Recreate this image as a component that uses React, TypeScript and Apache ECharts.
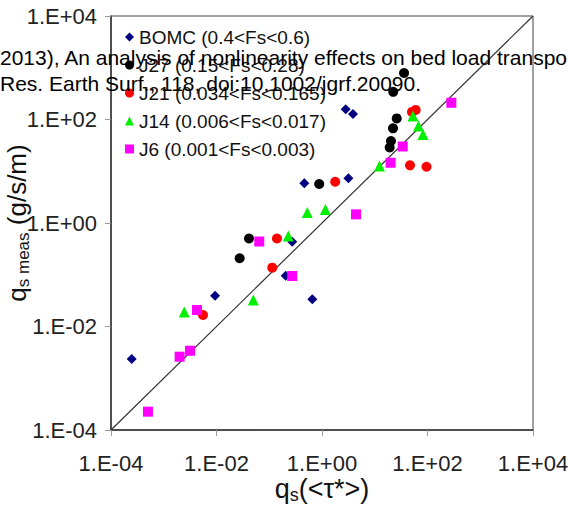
import React, { useEffect, useRef } from "react";
import * as echarts from "echarts";

const FONT = "'Liberation Sans', Arial, Helvetica, sans-serif";

// Axis extent (decades) and tick step
const axisMinExp = -4;
const axisMaxExp = 4;
const tickStepExp = 2;

// Series names
const seriesNames = [
  "BOMC (0.4<Fs<0.6)",
  "J27 (0.15<Fs<0.28)",
  "J21 (0.034<Fs<0.165)",
  "J14 (0.006<Fs<0.017)",
  "J6 (0.001<Fs<0.003)",
];

// [qs(<tau*>), qs meas] pairs
const bomc = [
  [2.47e-4, 2.35e-3], [9.4e-3, 0.0394], [0.205, 0.096], [0.655, 0.0336], [0.273, 0.435],
  [0.462, 5.85], [3.16, 7.31], [2.81, 158], [3.87, 128],
];
const j27 = [
  [0.0275, 0.208], [0.0413, 0.501], [0.885, 5.67], [19.2, 28.8], [20.3, 38.4],
  [22.2, 67.6], [26.1, 105], [22.4, 343], [35.9, 792],
];
const j21 = [
  [5.55e-3, 0.0167], [0.114, 0.137], [0.14, 0.501], [1.78, 6.28], [46.6, 13.0],
  [95.7, 12.2], [50.8, 140], [59.7, 153],
];
const j14 = [
  [2.45e-3, 0.0191], [0.0499, 0.0325], [0.23, 0.561], [0.526, 1.6], [1.16, 1.82],
  [12.3, 12.6], [53.1, 117], [67.5, 74.9], [82.2, 51.3],
];
const j6 = [
  [5.02e-4, 2.26e-4], [2.0e-3, 2.61e-3], [3.15e-3, 3.4e-3], [4.27e-3, 0.0208], [0.0647, 0.439],
  [0.273, 0.0946], [4.42, 1.47], [20.0, 14.6], [33.9, 30.1], [283, 211],
];

// 1:1 line end points
const oneToOne = [1e-4, 1e4];

const overlayLines = [
  "2013), An analysis of nonlinearity effects on bed load transpo",
  "Res. Earth Surf., 118, doi:10.1002/jgrf.20090.",
];

const seriesData = [bomc, j27, j21, j14, j6];
const seriesColors = ["#000080", "#000000", "#ff0000", "#00f000", "#ff00ff"];
const seriesSymbols = ["diamond", "circle", "circle", "triangle", "rect"];
const seriesSizes = [10, 10, 10, 11, 10];

const toLog = (pts: number[][]) => pts.map(([x, y]) => [Math.log10(x), Math.log10(y)]);

const fmtExp = (v: number) => {
  const e = Math.round(v);
  const s = String(Math.abs(e)).padStart(2, "0");
  return "1.E" + (e < 0 ? "-" : "+") + s;
};

export default function App() {
  const ref = useRef<HTMLDivElement>(null);
  useEffect(() => {
    if (!ref.current) return;
    const chart = echarts.init(ref.current, null, { renderer: "svg" });
    const axisCommon = {
      type: "value",
      min: axisMinExp,
      max: axisMaxExp,
      interval: tickStepExp,
      nameMoveOverlap: false,
      splitLine: { show: false },
      axisLine: { show: true, onZero: false, lineStyle: { color: "#333", width: 1.5 } },
      axisTick: { show: true, inside: false, length: 6, lineStyle: { color: "#999", width: 1 } },
    };
    const option: any = {
      animation: false,
      backgroundColor: "#ffffff",
      textStyle: { fontFamily: FONT },
      grid: {
        left: 111,
        top: 16,
        width: 422,
        height: 414,
        containLabel: false,
        outerBoundsMode: "none",
        show: true,
        borderColor: "#444",
        borderWidth: 1,
        backgroundColor: "transparent",
      },
      legend: {
        orient: "vertical",
        left: 125,
        top: 23,
        padding: 0,
        itemGap: 0,
        itemWidth: 9,
        itemHeight: 9,
        data: seriesNames.map((n, i) => ({ name: n, icon: seriesSymbols[i] })),
        textStyle: { fontFamily: FONT, fontSize: 19, color: "#111", lineHeight: 28 },
      },
      xAxis: {
        ...axisCommon,
        axisLabel: { fontFamily: FONT, fontSize: 22, color: "#222", margin: 22, formatter: fmtExp, hideOverlap: false },
        name: "{q|q}{s|s}{q|(<τ*>)}",
        nameLocation: "middle",
        nameGap: 44,
        nameTextStyle: {
          rich: {
            q: { fontFamily: FONT, fontSize: 27, lineHeight: 30, color: "#111" },
            s: { fontFamily: FONT, fontSize: 18, lineHeight: 14, verticalAlign: "bottom", color: "#111" },
          },
        },
      },
      yAxis: {
        ...axisCommon,
        axisLabel: { fontFamily: FONT, fontSize: 22, color: "#222", margin: 14, formatter: fmtExp, hideOverlap: false },
        name: "{q|q}{s|s meas}{q| (g/s/m)}",
        nameLocation: "middle",
        nameGap: 79,
        nameTextStyle: {
          rich: {
            q: { fontFamily: FONT, fontSize: 26, lineHeight: 30, color: "#111" },
            s: { fontFamily: FONT, fontSize: 17, lineHeight: 14, verticalAlign: "bottom", color: "#111" },
          },
        },
      },
      series: [
        {
          type: "line",
          data: [
            [Math.log10(oneToOne[0]), Math.log10(oneToOne[0])],
            [Math.log10(oneToOne[1]), Math.log10(oneToOne[1])],
          ],
          symbol: "none",
          silent: true,
          lineStyle: { color: "#333", width: 1.2 },
          z: 1,
        },
        ...seriesData.map((d, i) => ({
          name: seriesNames[i],
          type: "scatter",
          data: toLog(d),
          symbol: seriesSymbols[i],
          symbolSize: seriesSizes[i],
          itemStyle: { color: seriesColors[i], opacity: 1 },
          z: 3,
        })),
      ],
      graphic: overlayLines.map((t, i) => ({
        type: "text",
        left: 0,
        top: 47 + i * 26,
        z: 100,
        style: { text: t, fontFamily: FONT, fontSize: 21, fill: "#000" },
      })),
    };
    chart.setOption(option);
    return () => chart.dispose();
  }, []);
  return <div ref={ref} style={{ position: "fixed", left: 0, top: 0, width: 568, height: 516 }} />;
}
